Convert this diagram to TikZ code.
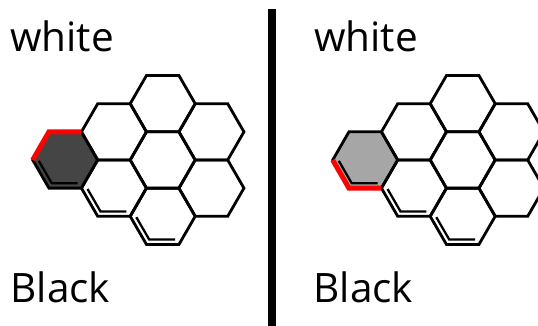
\documentclass[tikz,border=0pt]{standalone}
\usepackage{fontspec}
\setmainfont{Open Sans}
\definecolor{darkcell}{HTML}{454545}
\definecolor{lightcell}{HTML}{A6A6A6}
\definecolor{redbond}{HTML}{FF0000}
\begin{document}
\begin{tikzpicture}[x=1pt,y=1pt]
\useasboundingbox (0,0) rectangle (538,326);
\clip (0,0) rectangle (538,326);
\def\R{32.5}
\def\Ri{26.9}
\tikzset{
  hexedge/.style={line width=2.8pt,black},
  redge/.style={line width=5pt,redbond},
  innerbond/.style={line width=2.3pt,black,shorten <=1pt,shorten >=1pt},
  txt/.style={font=\fontsize{40.5}{42}\selectfont, anchor=base west, inner sep=0pt},
  hexcell/.pic={\draw[hexedge] (0:\R) -- (60:\R) -- (120:\R) -- (180:\R) -- (240:\R) -- (300:\R) -- cycle;},
  bondcell/.pic={\draw[innerbond] (180:\Ri) -- (240:\Ri) -- (300:\Ri);}
}
\foreach \ox/\p/\fc in {0/L/darkcell,300/R/lightcell} {
  \begin{scope}[xshift=\ox pt]
    \coordinate (\p00) at (65.2,166);
    \coordinate (\p1a) at (113.95,194.15);
    \coordinate (\p10) at (113.95,137.85);
    \coordinate (\p2b) at (162.7,222.3);
    \coordinate (\p2a) at (162.7,166);
    \coordinate (\p20) at (162.7,109.7);
    \coordinate (\p3b) at (211.45,194.15);
    \coordinate (\p3a) at (211.45,137.85);
    \fill[\fc] (\p00) +(0:\R) -- +(60:\R) -- +(120:\R) -- +(180:\R) -- +(240:\R) -- +(300:\R) -- cycle;
    \foreach \c in {00,1a,10,2b,2a,20,3b,3a} { \pic at (\p\c) {hexcell}; }
    \foreach \c in {00,10,20} { \pic at (\p\c) {bondcell}; }
  \end{scope}
}
\draw[redge] (L00) +(180:\R) -- +(120:\R) -- +(60:\R);
\draw[redge] (R00) +(180:\R) -- +(240:\R) -- +(300:\R);
\coordinate (dtop) at (272,316.5);
\coordinate (dbot) at (272,0);
\draw[line width=7.5pt] (dtop) -- (dbot);
\node[txt] (wl) at (10,274.3) {white};
\node[txt] (bl) at (10.5,23.7) {Black};
\node[txt] (wr) at (314,274.3) {white};
\node[txt] (br) at (313.5,23.7) {Black};
\end{tikzpicture}
\end{document}
